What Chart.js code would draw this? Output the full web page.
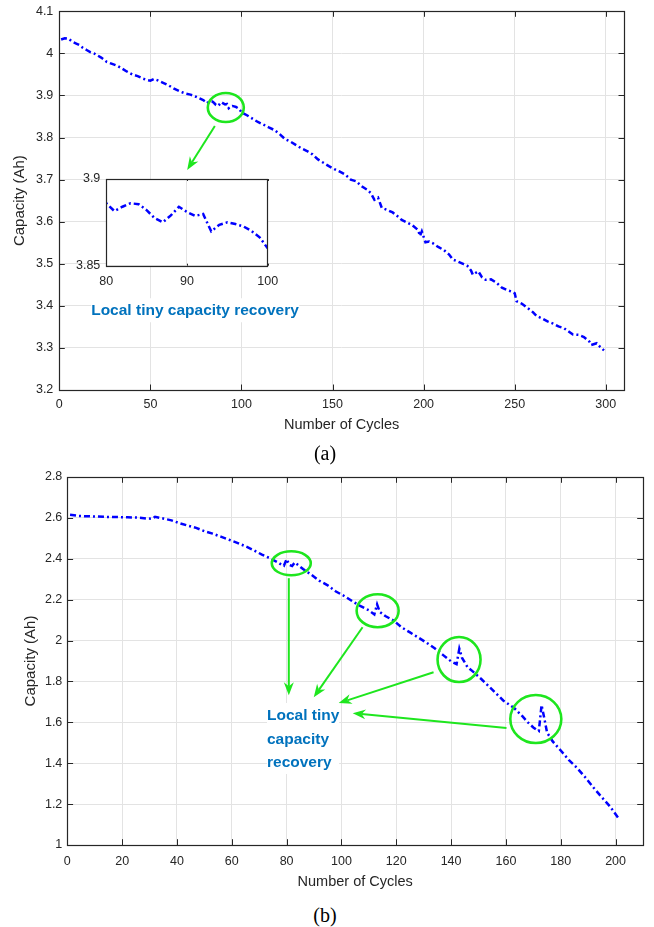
<!DOCTYPE html>
<html>
<head>
<meta charset="utf-8">
<script src="https://cdn.jsdelivr.net/npm/chart.js@4.4.1/dist/chart.umd.min.js"></script>
<style>
  html, body { margin: 0; padding: 0; background: #fff; }
  body { width: 654px; height: 927px; position: relative; overflow: hidden; }
  .box { position: absolute; }
  .note { position: absolute; color: #0072BD; font: bold 15.5px "Liberation Sans", Arial, sans-serif; background: #fff; white-space: nowrap; line-height: 23.5px; }
  .cap { position: absolute; font: 20px "Liberation Serif", "Times New Roman", serif; color: #000; transform: translate(-50%, -50%); }
</style>
</head>
<body>
<div class="box" style="left:0;top:0"><canvas id="chartA" width="654" height="440"></canvas></div>
<div class="box" style="left:66px;top:169px"><canvas id="chartInset" width="222" height="125"></canvas></div>
<div class="box" style="left:0;top:460px"><canvas id="chartB" width="654" height="440"></canvas></div>
<div class="note" style="left:195px;top:310px;transform:translate(-50%,-50%)">Local tiny capacity recovery</div>
<div class="note" style="left:267px;top:703px">Local tiny<br>capacity<br>recovery</div>
<div class="cap" style="left:325px;top:453px">(a)</div>
<div class="cap" style="left:325px;top:915px">(b)</div>
<script>
  "use strict";

  // ----- Data: panel (a) -----
  const CYCLES_A = [1, 3, 5, 7, 9, 11, 13, 15, 17, 19, 21, 23, 26, 29, 32, 34, 37, 40, 43, 46, 48, 50,
    52, 54, 57, 60, 63, 66, 69, 72, 75, 77, 79,
    80, 81, 82, 83, 84, 85, 86, 87, 88, 89, 90, 91, 92, 93, 94, 95, 96, 97, 98, 99, 100,
    103, 106, 109, 112, 115, 118, 121, 124, 127, 130, 133, 136, 139, 142, 145, 148, 151, 154, 157,
    160, 163, 166, 169, 171, 173, 175, 177, 180, 183, 186, 188, 191, 194, 197, 198, 199, 201, 203,
    205, 208, 211, 214, 216, 219, 222, 224, 226, 227, 230, 232, 234, 237, 240, 243, 246, 249, 250,
    251, 254, 257, 260, 262, 265, 268, 271, 274, 277, 280, 282, 285, 288, 291, 292, 295, 297, 299];
  const CAP_A = [4.033, 4.036, 4.035, 4.028, 4.024, 4.020, 4.013, 4.008, 4.003, 4.000, 3.995, 3.990,
    3.980, 3.975, 3.970, 3.965, 3.957, 3.950, 3.946, 3.940, 3.937, 3.935,
    3.939, 3.936, 3.930, 3.924, 3.916, 3.910, 3.905, 3.902, 3.897, 3.893, 3.889,
    3.886, 3.8815, 3.884, 3.886, 3.8855, 3.882, 3.8774, 3.875, 3.879, 3.884, 3.881, 3.8787, 3.8798,
    3.8698, 3.8736, 3.875, 3.874, 3.8726, 3.870, 3.8664, 3.860,
    3.853, 3.845, 3.837, 3.831, 3.824, 3.818, 3.808, 3.796, 3.790, 3.782, 3.774, 3.768, 3.760, 3.748,
    3.740, 3.732, 3.725, 3.719, 3.712, 3.700, 3.696, 3.684, 3.676, 3.668, 3.652, 3.657, 3.633, 3.628,
    3.622, 3.612, 3.604, 3.598, 3.591, 3.580, 3.566, 3.577, 3.551, 3.553, 3.549, 3.540, 3.533, 3.522,
    3.510, 3.505, 3.499, 3.495, 3.484, 3.474, 3.482, 3.468, 3.462, 3.463, 3.455, 3.443, 3.437, 3.433,
    3.430, 3.411, 3.405, 3.395, 3.385, 3.376, 3.370, 3.363, 3.358, 3.351, 3.347, 3.338, 3.332, 3.331,
    3.326, 3.315, 3.307, 3.311, 3.302, 3.294];
  const X_TICKS_A = [0, 50, 100, 150, 200, 250, 300];
  const Y_TICKS_A = [3.2, 3.3, 3.4, 3.5, 3.6, 3.7, 3.8, 3.9, 4, 4.1];
  const X_TICKS_INSET = [80, 90, 100];
  const Y_TICKS_INSET = [3.85, 3.9];

  // ----- Data: panel (b) -----
  const CYCLES_B = [1, 4, 7, 10, 14, 18, 22, 26, 29, 31, 32, 35, 38, 41, 44, 47, 50, 53, 56, 59, 62, 65,
    68, 71, 74, 77, 78, 79, 80, 81, 82, 83, 86, 89, 92, 95, 98, 101, 104, 107, 110, 112, 113, 114, 116,
    119, 122, 125, 128, 131, 134, 137, 140, 142, 143, 144, 146, 148, 151, 155, 159, 163, 166, 168, 170,
    171, 172, 173, 174, 175, 177, 180, 183, 186, 189, 192, 195, 198, 201];
  const CAP_B = [2.615, 2.610, 2.608, 2.607, 2.605, 2.604, 2.603, 2.601, 2.597, 2.596, 2.605, 2.597,
    2.588, 2.574, 2.562, 2.551, 2.535, 2.523, 2.508, 2.493, 2.478, 2.461, 2.442, 2.420, 2.402, 2.381,
    2.372, 2.366, 2.398, 2.370, 2.365, 2.382, 2.350, 2.322, 2.292, 2.270, 2.240, 2.218, 2.192, 2.168,
    2.148, 2.128, 2.177, 2.140, 2.120, 2.098, 2.064, 2.040, 2.015, 1.990, 1.962, 1.930, 1.898, 1.885,
    1.960, 1.915, 1.870, 1.848, 1.812, 1.760, 1.707, 1.670, 1.630, 1.600, 1.575, 1.565, 1.558, 1.684,
    1.620, 1.550, 1.508, 1.462, 1.415, 1.376, 1.330, 1.280, 1.233, 1.188, 1.132];
  const X_TICKS_B = [0, 20, 40, 60, 80, 100, 120, 140, 160, 180, 200];
  const Y_TICKS_B = [1, 1.2, 1.4, 1.6, 1.8, 2, 2.2, 2.4, 2.6, 2.8];

  // ----- Annotations (data coordinates, radii in px) -----
  const RINGS_A = [{ x: 91.4, y: 3.8715, rx: 18, ry: 14.5 }];
  const ARROWS_A = [{ x1: 85.4, y1: 3.8275, x2: 70.2, y2: 3.723 }];
  const RINGS_B = [
    { x: 81.7, y: 2.378, rx: 19.5, ry: 12 },
    { x: 113.2, y: 2.146, rx: 21, ry: 16.5 },
    { x: 142.9, y: 1.907, rx: 21.5, ry: 22.5 },
    { x: 170.9, y: 1.616, rx: 25.5, ry: 24 },
  ];
  const ARROWS_B = [
    { x1: 80.8, y1: 2.305, x2: 80.8, y2: 1.733 },
    { x1: 107.7, y1: 2.065, x2: 89.9, y2: 1.723 },
    { x1: 133.6, y1: 1.845, x2: 99.0, y2: 1.694 },
    { x1: 160.2, y1: 1.572, x2: 104.1, y2: 1.645 },
  ];

  // ----- Style -----
  const FONT = "'Liberation Sans', Arial, sans-serif";
  const AXIS = "#262626";
  const GRID = "#e3e3e3";
  const LINE = "#0000ff";
  const GREEN = "#1ee61e";
  const DASH = [6, 3, 2, 3];

  const toPts = (xs, ys) => xs.map((x, i) => ({ x, y: ys[i] }));
  const fmt = (v) => String(+Number(v).toFixed(2));

  // MATLAB-like box with inward ticks on all four sides
  const boxTicks = {
    id: "boxTicks",
    afterDatasetsDraw(chart, args, opts) {
      const { ctx, chartArea: a, scales: { x, y } } = chart;
      const len = opts.len || 5;
      ctx.save();
      ctx.strokeStyle = AXIS;
      ctx.lineWidth = 1;
      ctx.beginPath();
      x.ticks.forEach((t) => {
        const px = Math.round(x.getPixelForValue(t.value)) + 0.5;
        ctx.moveTo(px, a.bottom); ctx.lineTo(px, a.bottom - len);
        ctx.moveTo(px, a.top); ctx.lineTo(px, a.top + len);
      });
      y.ticks.forEach((t) => {
        const py = Math.round(y.getPixelForValue(t.value)) + 0.5;
        ctx.moveTo(a.left, py); ctx.lineTo(a.left + len, py);
        ctx.moveTo(a.right, py); ctx.lineTo(a.right - len, py);
      });
      ctx.stroke();
      ctx.lineWidth = 1.2;
      ctx.strokeRect(Math.round(a.left) + 0.5, Math.round(a.top) + 0.5,
        Math.round(a.right - a.left), Math.round(a.bottom - a.top));
      ctx.restore();
    },
  };

  const whiteArea = {
    id: "whiteArea",
    beforeDraw(chart) {
      const { ctx, chartArea: a } = chart;
      ctx.save();
      ctx.fillStyle = "#fff";
      ctx.fillRect(a.left, a.top, a.right - a.left, a.bottom - a.top);
      ctx.restore();
    },
  };

  function drawArrow(ctx, x1, y1, x2, y2) {
    const dx = x2 - x1, dy = y2 - y1, L = Math.hypot(dx, dy);
    const ux = dx / L, uy = dy / L, px = -uy, py = ux;
    const hl = 13, hw = 5, notch = 9;
    ctx.beginPath();
    ctx.moveTo(x1, y1);
    ctx.lineTo(x2 - ux * notch, y2 - uy * notch);
    ctx.stroke();
    ctx.beginPath();
    ctx.moveTo(x2, y2);
    ctx.lineTo(x2 - ux * hl + px * hw, y2 - uy * hl + py * hw);
    ctx.lineTo(x2 - ux * notch, y2 - uy * notch);
    ctx.lineTo(x2 - ux * hl - px * hw, y2 - uy * hl - py * hw);
    ctx.closePath();
    ctx.fill();
  }

  const marks = {
    id: "marks",
    afterDraw(chart, args, opts) {
      const { ctx, scales: { x, y } } = chart;
      ctx.save();
      ctx.strokeStyle = GREEN;
      ctx.fillStyle = GREEN;
      ctx.lineWidth = 2.6;
      (opts.rings || []).forEach((r) => {
        ctx.beginPath();
        ctx.ellipse(x.getPixelForValue(r.x), y.getPixelForValue(r.y), r.rx, r.ry, 0, 0, Math.PI * 2);
        ctx.stroke();
      });
      ctx.lineWidth = 2;
      (opts.arrows || []).forEach((ar) => {
        drawArrow(ctx, x.getPixelForValue(ar.x1), y.getPixelForValue(ar.y1),
          x.getPixelForValue(ar.x2), y.getPixelForValue(ar.y2));
      });
      ctx.restore();
    },
  };

  function scaleX(min, max, ticks, cfg) {
    return {
      type: "linear", min, max,
      afterBuildTicks: (s) => { s.ticks = ticks.map((v) => ({ value: v })); },
      afterFit: (s) => { s.height = cfg.height; s.paddingLeft = 0; s.paddingRight = 0; },
      grid: { color: GRID, lineWidth: 1, drawTicks: false },
      border: { display: false },
      ticks: { color: AXIS, font: { family: FONT, size: 12.5 }, padding: cfg.pad, maxRotation: 0, autoSkip: false, callback: fmt },
      title: cfg.title
        ? { display: true, text: cfg.title, color: AXIS, font: { family: FONT, size: 14.5 }, padding: { top: 0, bottom: cfg.titlePad } }
        : { display: false },
    };
  }

  function scaleY(min, max, ticks, cfg) {
    return {
      type: "linear", min, max,
      afterBuildTicks: (s) => { s.ticks = ticks.map((v) => ({ value: v })); },
      afterFit: (s) => { s.width = cfg.width; s.paddingTop = 0; s.paddingBottom = 0; },
      grid: { color: GRID, lineWidth: 1, drawTicks: false },
      border: { display: false },
      ticks: { color: AXIS, font: { family: FONT, size: 12.5 }, padding: cfg.pad, autoSkip: false, callback: fmt },
      title: cfg.title
        ? { display: true, text: cfg.title, color: AXIS, font: { family: FONT, size: 15 }, padding: { top: cfg.titlePad, bottom: 0 } }
        : { display: false },
    };
  }

  function lineSet(xs, ys) {
    return {
      data: toPts(xs, ys),
      borderColor: LINE,
      borderWidth: 2.5,
      borderDash: DASH,
      pointRadius: 0,
      tension: 0,
      fill: false,
    };
  }

  const common = {
    responsive: false,
    animation: false,
    events: [],
    plugins: { legend: { display: false }, tooltip: { enabled: false } },
  };

  // ----- Panel (a) -----
  new Chart(document.getElementById("chartA"), {
    type: "line",
    data: { datasets: [lineSet(CYCLES_A, CAP_A)] },
    options: {
      ...common,
      layout: { padding: { left: 0, top: 11.3, right: 30, bottom: 0 } },
      scales: {
        x: scaleX(0, 310, X_TICKS_A, { height: 50, pad: 7.5, title: "Number of Cycles", titlePad: 6.3 }),
        y: scaleY(3.2, 4.1, Y_TICKS_A, { width: 59.3, pad: 6, title: "Capacity (Ah)", titlePad: 11 }),
      },
      plugins: { ...common.plugins, boxTicks: { len: 5.5 }, marks: { rings: RINGS_A, arrows: ARROWS_A } },
    },
    plugins: [boxTicks, marks],
  });

  // ----- Inset of (a) -----
  new Chart(document.getElementById("chartInset"), {
    type: "line",
    data: { datasets: [lineSet(CYCLES_A, CAP_A)] },
    options: {
      ...common,
      layout: { padding: { left: 0, top: 10, right: 20.3, bottom: 0 } },
      scales: {
        x: scaleX(80, 100, X_TICKS_INSET, { height: 28.3, pad: 8.5 }),
        y: scaleY(3.85, 3.9, Y_TICKS_INSET, { width: 40.3, pad: 6 }),
      },
      plugins: { ...common.plugins, boxTicks: { len: 2 } },
    },
    plugins: [whiteArea, boxTicks],
  });

  // ----- Panel (b) -----
  new Chart(document.getElementById("chartB"), {
    type: "line",
    data: { datasets: [lineSet(CYCLES_B, CAP_B)] },
    options: {
      ...common,
      layout: { padding: { left: 0, top: 17, right: 11, bottom: 0 } },
      scales: {
        x: scaleX(0, 210, X_TICKS_B, { height: 55, pad: 9.5, title: "Number of Cycles", titlePad: 9.3 }),
        y: scaleY(1, 2.8, Y_TICKS_B, { width: 67.3, pad: 5, title: "Capacity (Ah)", titlePad: 22 }),
      },
      plugins: { ...common.plugins, boxTicks: { len: 5.8 }, marks: { rings: RINGS_B, arrows: ARROWS_B } },
    },
    plugins: [boxTicks, marks],
  });
</script>
</body>
</html>
